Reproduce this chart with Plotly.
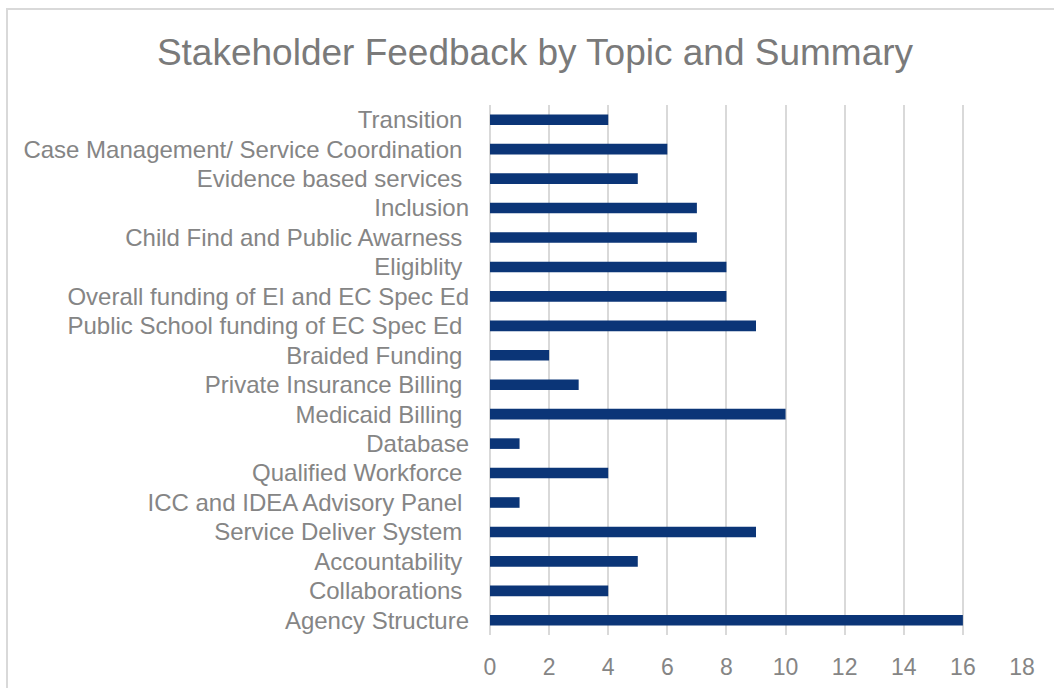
import plotly.graph_objects as go

# Stakeholder feedback counts, listed bottom to top as in the chart
topics = [
    "Agency Structure",
    "Collaborations\u00a0",
    "Accountability\u00a0",
    "Service Deliver System\u00a0",
    "ICC and IDEA Advisory Panel\u00a0",
    "Qualified Workforce\u00a0",
    "Database",
    "Medicaid Billing\u00a0",
    "Private Insurance Billing\u00a0",
    "Braided Funding\u00a0",
    "Public School funding of EC Spec Ed\u00a0",
    "Overall funding of EI and EC Spec Ed",
    "Eligiblity\u00a0",
    "Child Find and Public Awarness\u00a0",
    "Inclusion",
    "Evidence based services\u00a0",
    "Case Management/ Service Coordination\u00a0",
    "Transition\u00a0",
]
counts = [16, 4, 5, 9, 1, 4, 1, 10, 3, 2, 9, 8, 8, 7, 7, 5, 6, 4]
x_ticks = [0, 2, 4, 6, 8, 10, 12, 14, 16, 18]

fig = go.Figure()
fig.add_trace(go.Bar(
    y=topics, x=counts, orientation="h",
    marker=dict(color="#0B3577", line=dict(width=0)),
    width=0.36,
))

fig.update_layout(
    width=1054, height=688,
    margin=dict(l=490, r=32, t=105, b=53),
    paper_bgcolor="white", plot_bgcolor="white",
    font=dict(family="Liberation Sans, Arial, sans-serif", color="#858585"),
    title=dict(text="Stakeholder Feedback by Topic and Summary",
               x=535 / 1054, xref="container", xanchor="center",
               y=1 - 52 / 688, yref="container", yanchor="middle",
               font=dict(size=37, color="#7A7A7A")),
    showlegend=False,
    shapes=[dict(type="rect", xref="paper", yref="paper",
                 x0=(7 - 490) / 532, x1=(1100 - 490) / 532,
                 y0=(635 - 720) / 530, y1=(635 - 9) / 530,
                 line=dict(color="#D9D9D9", width=2), layer="below")],
)
fig.update_xaxes(range=[0, 18], tickvals=x_ticks, showgrid=True,
                 gridcolor="#D9D9D9", gridwidth=1.5, zeroline=True,
                 zerolinecolor="#D9D9D9", zerolinewidth=1.5, automargin=False,
                 showline=False, ticks="", tickfont=dict(size=23, color="#858585"),
                 ticklabelstandoff=16)
fig.update_yaxes(range=[-0.5, 17.5], showgrid=False, showline=False,
                 automargin=False, ticks="",
                 tickfont=dict(size=24, color="#858585"),
                 ticklabelstandoff=20)

fig.write_html("out.html", config={"displayModeBar": False},
               post_script="document.body.style.margin='0';")
